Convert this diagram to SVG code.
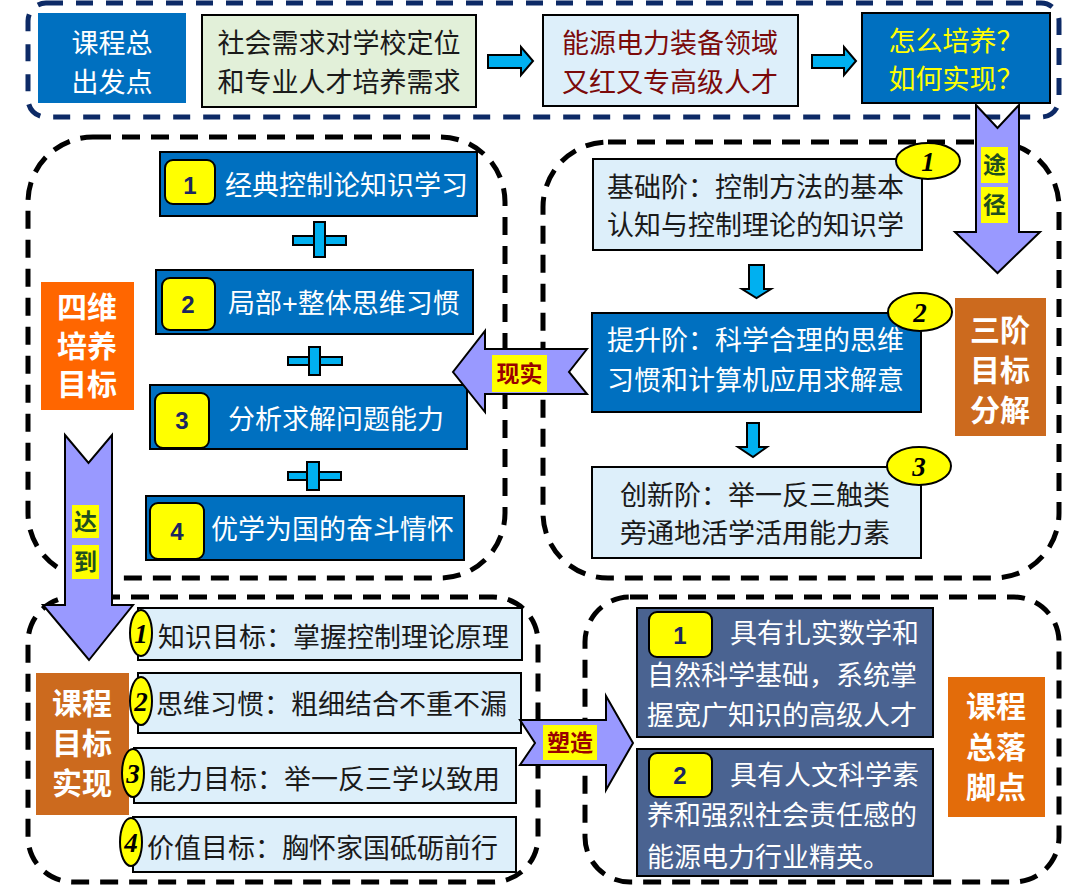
<svg xmlns="http://www.w3.org/2000/svg" width="1080" height="889" viewBox="0 0 1080 889">
<style>
.t{font-family:'Liberation Sans','Noto Sans CJK SC',sans-serif;font-size:27px}
.w{fill:#fff}.k{fill:#1a1a1a}
.lab{font-family:'Liberation Sans','Noto Sans CJK SC',sans-serif;font-size:30px;font-weight:700;fill:#fff;text-anchor:middle}
.bx{stroke:#000;stroke-width:2}
.blue{fill:#0070C0}.lb{fill:#DDEFFA}.sl{fill:#4A6391}
.dash{fill:none;stroke:#000;stroke-width:5;stroke-dasharray:18 11}
.pa{fill:#9999FF;stroke:#000;stroke-width:2}
.ca{fill:#00B0F0;stroke:#000;stroke-width:2}
.yb{fill:#FFFF00;stroke:#000;stroke-width:2}
.num{font-family:'Liberation Sans',sans-serif;font-weight:700;font-size:24px;fill:#1A2660;text-anchor:middle}
.en{font-family:'Liberation Serif',serif;font-weight:700;font-style:italic;font-size:27px;fill:#000;text-anchor:middle}
.yl{fill:#FFFF00}
.al{font-family:'Noto Sans CJK SC',sans-serif;font-weight:700;font-size:23px;text-anchor:middle}
</style>

<g id="frames">
<rect x="28" y="3" width="1031" height="114" rx="18" fill="none" stroke="#0D2A66" stroke-width="5" stroke-dasharray="17 13"/>
<rect class="dash" x="28" y="137" width="477" height="441" rx="65"/>
<rect class="dash" x="543" y="142" width="516" height="436" rx="65"/>
<rect class="dash" x="28" y="597" width="510" height="285" rx="45"/>
<rect class="dash" x="585" y="597" width="474" height="285" rx="45"/>
</g>

<g id="n-start">
<rect x="38" y="13" width="148" height="90" fill="#0070C0"/>
<text class="t w" x="112" y="53" text-anchor="middle" font-size="29">课程总</text>
<text class="t w" x="112" y="92" text-anchor="middle" font-size="29">出发点</text>
</g>
<g id="n-need">
<rect class="bx" x="202" y="15" width="274" height="92" fill="#E2F0D9"/>
<text class="t k" x="339" y="53" text-anchor="middle">社会需求对学校定位</text>
<text class="t k" x="339" y="92" text-anchor="middle">和专业人才培养需求</text>
</g>
<g id="n-talent">
<rect class="bx lb" x="543" y="15" width="255" height="91"/>
<text class="t" x="670" y="53" text-anchor="middle" fill="#7B0A0A">能源电力装备领域</text>
<text class="t" x="670" y="92" text-anchor="middle" fill="#7B0A0A">又红又专高级人才</text>
</g>
<g id="n-how">
<rect class="bx blue" x="862" y="13" width="188" height="90"/>
<text class="t" x="956" y="51" text-anchor="middle" fill="#FFFF00" font-size="26">怎么培养？</text>
<text class="t" x="956" y="89" text-anchor="middle" fill="#FFFF00" font-size="26">如何实现？</text>
</g>

<g id="n-four">
<rect x="41" y="282" width="93" height="128" fill="#FF6600"/>
<text class="lab" x="87" y="318">四维</text>
<text class="lab" x="87" y="357">培养</text>
<text class="lab" x="87" y="395">目标</text>
</g>
<g id="n-g1">
<rect class="bx blue" x="160" y="152" width="317" height="64"/>
<rect class="bx yb" x="165" y="160" width="50" height="44" rx="8"/>
<text class="num" x="190" y="194">1</text>
<text class="t w" x="225" y="195">经典控制论知识学习</text>
</g>
<g id="n-g2">
<rect class="bx blue" x="156" y="270" width="317" height="64"/>
<rect class="bx yb" x="162" y="278" width="53" height="52" rx="8"/>
<text class="num" x="188" y="313">2</text>
<text class="t w" x="228" y="313">局部+整体思维习惯</text>
</g>
<g id="n-g3">
<rect class="bx blue" x="150" y="385" width="317" height="64"/>
<rect class="bx yb" x="155" y="393" width="54" height="55" rx="8"/>
<text class="num" x="182" y="429">3</text>
<text class="t w" x="228" y="429">分析求解问题能力</text>
</g>
<g id="n-g4">
<rect class="bx blue" x="146" y="496" width="318" height="64"/>
<rect class="bx yb" x="150" y="503" width="54" height="56" rx="8"/>
<text class="num" x="177" y="540">4</text>
<text class="t w" x="211" y="539">优学为国的奋斗情怀</text>
</g>
<g id="plus">
<rect class="ca" x="293" y="236" width="53" height="9"/><rect class="ca" x="314" y="222" width="11" height="35"/>
<rect class="ca" x="288" y="357" width="54" height="8"/><rect class="ca" x="309" y="347" width="11" height="28"/>
<rect class="ca" x="288" y="472" width="53" height="8"/><rect class="ca" x="307" y="462" width="12" height="28"/>
</g>

<g id="n-s1">
<rect class="bx lb" x="593" y="159" width="329" height="91"/>
<text class="t k" x="607" y="197">基础阶：控制方法的基本</text>
<text class="t k" x="607" y="235">认知与控制理论的知识学</text>
<ellipse class="yb" cx="928" cy="161" rx="32" ry="18"/>
<text class="en" x="928" y="171">1</text>
</g>
<g id="n-s2">
<rect class="bx blue" x="592" y="313" width="329" height="99"/>
<text class="t w" x="607" y="350">提升阶：科学合理的思维</text>
<text class="t w" x="607" y="390">习惯和计算机应用求解意</text>
<ellipse class="yb" cx="920" cy="312" rx="32" ry="19"/>
<text class="en" x="920" y="322">2</text>
</g>
<g id="n-s3">
<rect class="bx lb" x="592" y="467" width="329" height="91"/>
<text class="t k" x="620" y="505">创新阶：举一反三触类</text>
<text class="t k" x="620" y="543">旁通地活学活用能力素</text>
<ellipse class="yb" cx="919" cy="466" rx="32" ry="19"/>
<text class="en" x="919" y="476">3</text>
</g>
<g id="n-three">
<rect x="955" y="298" width="91" height="138" fill="#CC6A1E"/>
<text class="lab" x="1000" y="341">三阶</text>
<text class="lab" x="1000" y="381">目标</text>
<text class="lab" x="1000" y="421">分解</text>
</g>

<g id="n-real">
<rect x="36" y="673" width="93" height="142" fill="#CC6A1E"/>
<text class="lab" x="82" y="714">课程</text>
<text class="lab" x="82" y="754">目标</text>
<text class="lab" x="82" y="794">实现</text>
</g>
<g id="n-o1">
<rect class="bx lb" x="138" y="608" width="384" height="52"/>
<text class="t k" x="158" y="647">知识目标：掌握控制理论原理</text>
<ellipse class="yb" cx="141" cy="633" rx="11" ry="23"/>
<text class="en" x="141" y="643" font-size="25">1</text>
</g>
<g id="n-o2">
<rect class="bx lb" x="138" y="673" width="383" height="60"/>
<text class="t k" x="156" y="714">思维习惯：粗细结合不重不漏</text>
<ellipse class="yb" cx="141" cy="701" rx="11" ry="24"/>
<text class="en" x="141" y="711" font-size="25">2</text>
</g>
<g id="n-o3">
<rect class="bx lb" x="134" y="748" width="382" height="55"/>
<text class="t k" x="149" y="789">能力目标：举一反三学以致用</text>
<ellipse class="yb" cx="133" cy="773" rx="11" ry="24"/>
<text class="en" x="133" y="783" font-size="25">3</text>
</g>
<g id="n-o4">
<rect class="bx lb" x="133" y="817" width="383" height="55"/>
<text class="t k" x="147" y="858">价值目标：胸怀家国砥砺前行</text>
<ellipse class="yb" cx="131" cy="842" rx="11" ry="24"/>
<text class="en" x="131" y="852" font-size="25">4</text>
</g>

<g id="n-r1">
<rect class="bx sl" x="637" y="608" width="296" height="129"/>
<rect class="bx yb" x="649" y="612" width="63" height="45" rx="8"/>
<text class="num" x="680" y="644">1</text>
<text class="t w" x="730" y="643">具有扎实数学和</text>
<text class="t w" x="647" y="685">自然科学基础，系统掌</text>
<text class="t w" x="647" y="725">握宽广知识的高级人才</text>
</g>
<g id="n-r2">
<rect class="bx sl" x="637" y="749" width="296" height="127"/>
<rect class="bx yb" x="649" y="753" width="63" height="44" rx="8"/>
<text class="num" x="680" y="784">2</text>
<text class="t w" x="730" y="785">具有人文科学素</text>
<text class="t w" x="647" y="825">养和强烈社会责任感的</text>
<text class="t w" x="647" y="867">能源电力行业精英。</text>
</g>
<g id="n-end">
<rect x="948" y="677" width="97" height="140" fill="#E36C0A"/>
<text class="lab" x="996" y="717">课程</text>
<text class="lab" x="996" y="758">总落</text>
<text class="lab" x="996" y="798">脚点</text>
</g>

<g id="connectors">
<polygon class="ca" points="488,55 521,55 521,47 533,61 521,75 521,68 488,68"/>
<polygon class="ca" points="812,55 844,55 844,47 856,61 844,75 844,68 812,68"/>
<polygon class="ca" points="749,265 764,265 764,289 771,289 756.5,298 742,289 749,289"/>
<polygon class="ca" points="747,423 759,423 759,447 767,447 753,457 738,447 747,447"/>
<polygon class="pa" points="976,105 997.5,128 1019,105 1019,232 1040,232 997.5,273 955,232 976,232"/>
<rect class="yl" x="981" y="147" width="27" height="36"/>
<text class="al" x="994.5" y="173" fill="#1F4F1F">途</text>
<rect class="yl" x="981" y="187" width="27" height="36"/>
<text class="al" x="994.5" y="213" fill="#1F4F1F">径</text>
<polygon class="pa" points="587,349 569,372 587,394 485,394 485,412 453,372 485,331 485,349"/>
<rect class="yl" x="492" y="355" width="55" height="37"/>
<text class="al" x="519.5" y="382" fill="#990000">现实</text>
<polygon class="pa" points="65,435 88.5,463 112,435 112,605 133,605 89,660 43,605 65,605"/>
<rect class="yl" x="72" y="505" width="27" height="33"/>
<text class="al" x="85.5" y="530" fill="#1F4F1F">达</text>
<rect class="yl" x="72" y="545" width="27" height="34"/>
<text class="al" x="85.5" y="570" fill="#1F4F1F">到</text>
<polygon class="pa" points="520,720 606,720 606,696 633,743 606,790 606,765 520,765 535,743"/>
<rect class="yl" x="543" y="725" width="54" height="35"/>
<text class="al" x="570" y="751" fill="#990000">塑造</text>
</g>
</svg>
